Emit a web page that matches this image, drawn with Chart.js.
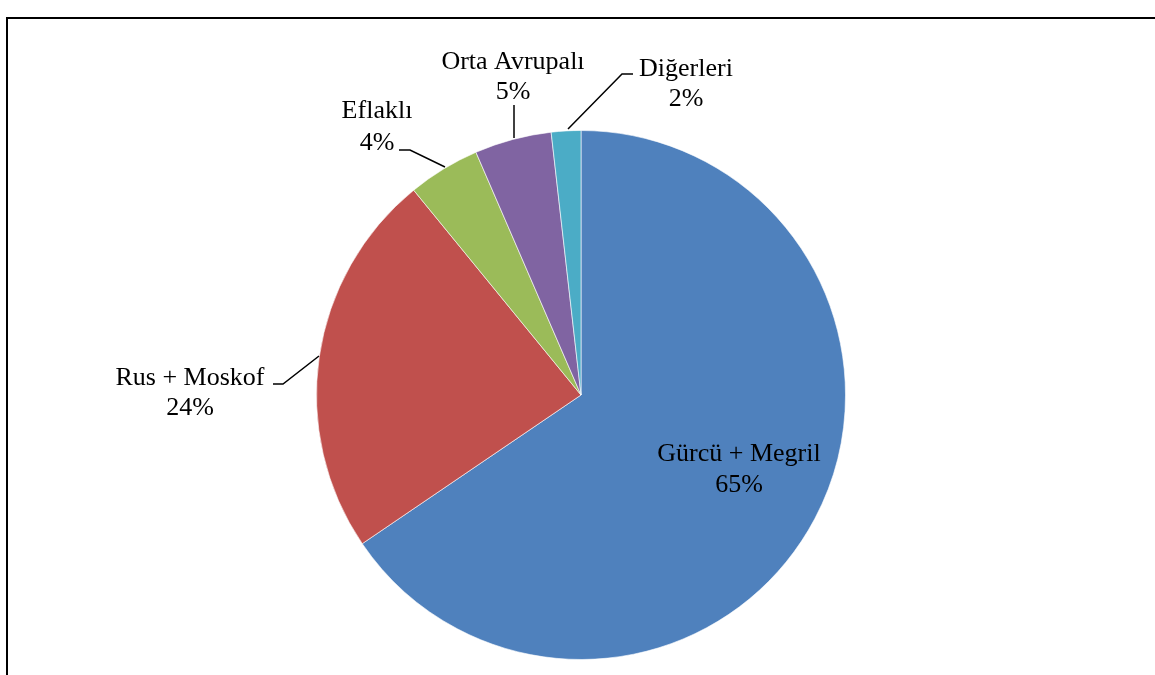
<!DOCTYPE html>
<html>
<head>
<meta charset="utf-8">
<script src="https://cdn.jsdelivr.net/npm/chart.js@4/dist/chart.umd.min.js"></script>
<style>
  html, body { margin: 0; padding: 0; background: #ffffff; }
  #wrap { position: relative; width: 1155px; height: 675px; overflow: hidden; }
  #frame { position: absolute; left: 6px; top: 17px; width: 1160px; height: 700px;
           border-top: 2.5px solid #000; border-left: 2px solid #000; box-sizing: border-box; }
  canvas { position: absolute; left: 0; top: 0; }
</style>
</head>
<body>
<div id="wrap">
  <div id="frame"></div>
  <canvas id="c" width="1155" height="675"></canvas>
</div>
<script>
// Data
const categories = ["Gürcü + Megril", "Rus + Moskof", "Eflaklı", "Orta Avrupalı", "Diğerleri"];
const shares = [65.5, 23.6, 4.4, 4.7, 1.8];
const percentLabels = ["65%", "24%", "4%", "5%", "2%"];
const colors = ["#4F81BD", "#C0504D", "#9BBB59", "#8064A2", "#4BACC6"];

// Label layout: offsets from pie centre (text centre x, baselines), leader polylines
const labelLayout = [
  { dx: 158, b1: 66, b2: 97, leader: null },
  { dx: -391, b1: -10, b2: 20, leader: [[-308, -11], [-298, -11], [-262, -39]] },
  { dx: -204, b1: -277, b2: -245, leader: [[-182, -245], [-171, -245], [-136, -228]] },
  { dx: -68, b1: -326, b2: -296, leader: [[-67, -290], [-67, -257]] },
  { dx: 105, b1: -319, b2: -289, leader: [[-13, -266], [41, -321], [52, -321]] }
];

const labelPlugin = {
  id: 'pieLabels',
  afterDatasetsDraw(chart) {
    const ctx = chart.ctx;
    const meta = chart.getDatasetMeta(0);
    const arc = meta.data[0];
    const cx = arc.x, cy = arc.y;
    ctx.save();
    ctx.font = '26px "Liberation Serif", "Times New Roman", serif';
    ctx.fillStyle = '#000';
    ctx.textAlign = 'center';
    ctx.textBaseline = 'alphabetic';
    ctx.strokeStyle = '#000';
    ctx.lineWidth = 1.5;
    labelLayout.forEach((L, i) => {
      ctx.fillText(categories[i], cx + L.dx, cy + L.b1);
      ctx.fillText(percentLabels[i], cx + L.dx, cy + L.b2);
      if (L.leader) {
        ctx.beginPath();
        L.leader.forEach((p, j) => {
          if (j === 0) ctx.moveTo(cx + p[0], cy + p[1]);
          else ctx.lineTo(cx + p[0], cy + p[1]);
        });
        ctx.stroke();
      }
    });
    ctx.restore();
  }
};

new Chart(document.getElementById('c'), {
  type: 'pie',
  data: {
    labels: categories,
    datasets: [{
      data: shares,
      backgroundColor: colors,
      borderColor: 'rgba(255,255,255,0.6)',
      borderWidth: 1
    }]
  },
  options: {
    responsive: false,
    animation: false,
    layout: { padding: { left: 316, right: 309, top: 130, bottom: 15 } },
    plugins: { legend: { display: false }, tooltip: { enabled: false } }
  },
  plugins: [labelPlugin]
});
</script>
</body>
</html>
